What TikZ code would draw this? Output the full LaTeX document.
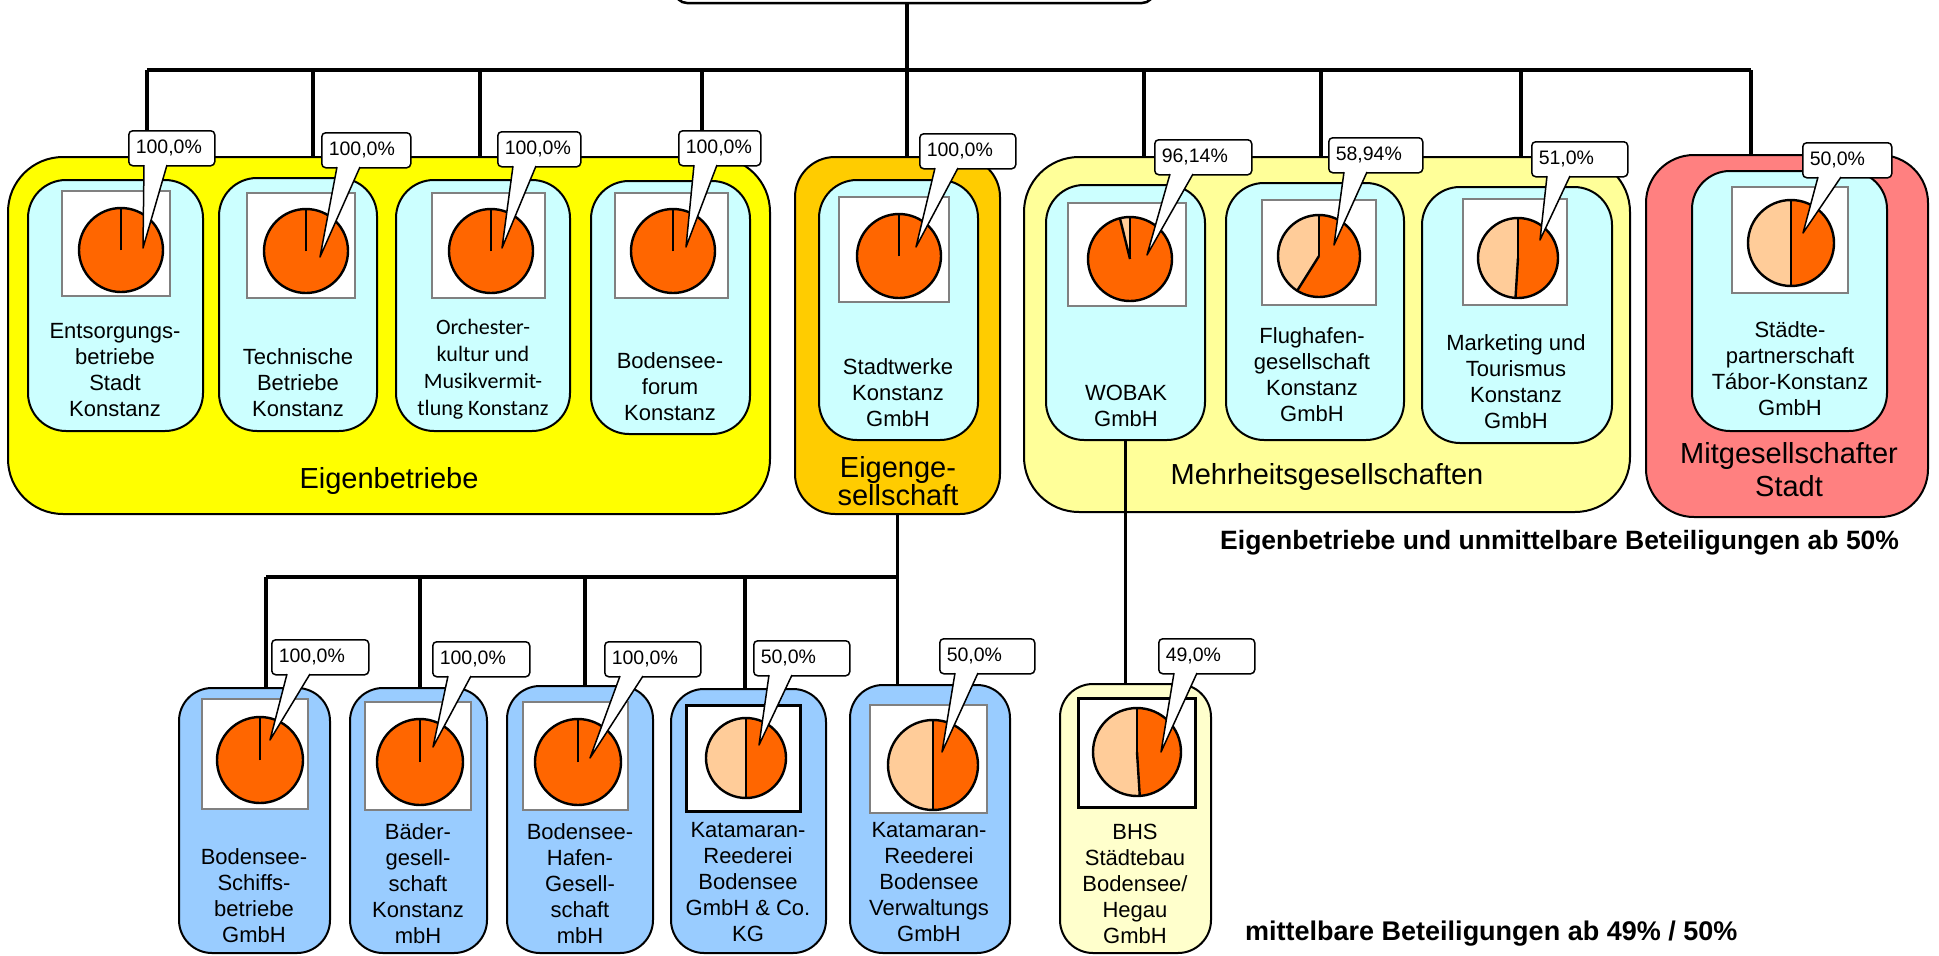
\documentclass[tikz,border=0pt]{standalone}
\usepackage{fontspec}
\setmainfont{Liberation Sans}
\newfontfamily\calibri{Carlito}
\usepackage{tikz}
\usetikzlibrary{calc}
\usetikzlibrary{positioning}
\definecolor{eigengelb}{RGB}{255,255,0}
\definecolor{eggelb}{RGB}{255,204,0}
\definecolor{mehrgelb}{RGB}{255,255,153}
\definecolor{mitrot}{RGB}{255,128,128}
\definecolor{firmablau}{RGB}{204,255,255}
\definecolor{tochterblau}{RGB}{153,204,255}
\definecolor{bhsgelb}{RGB}{255,255,204}
\definecolor{anteildunkel}{RGB}{255,102,0}
\definecolor{anteilhell}{RGB}{255,204,153}

% box from (x1,y1) to (x2,y2), y downwards
\newcommand{\kasten}[6]{%
  \node[#2, minimum width={#5-#3}, minimum height={#6-#4}] (#1) at ({(#3+#5)/2},{(#4+#6)/2}) {};}
% pie: centre, radius, percent
\newcommand{\anteil}[4]{%
  \fill[anteilhell] (#1,#2) circle[radius=#3];
  \fill[anteildunkel] (#1,#2) -- ++(-90:#3) arc[start angle=-90, delta angle={3.6*#4}, radius=#3] -- cycle;
  \draw[kreis] (#1,#2) circle[radius=#3];
  \draw[kreis] (#1,#2) -- ++(-90:#3);
  \draw[kreis] (#1,#2) -- ++({-90+3.6*#4}:#3);}
% callout: name, x, y, width, text, tip
\newcommand{\zahl}[7]{%
  \pgfmathsetmacro\zw{#4-14}
  \node[sprech, text width=\zw pt] (#1) at (#2,#3) {#5};
  \coordinate (#1spitze) at (#6,#7);
  \fill[white] ($(#1.south west)+(16,-1.5)$) -- (#1spitze) -- ($(#1.south west)+(39,-1.5)$) -- cycle;
  \draw[line width=1.5pt, line join=round] ($(#1.south west)+(16,-1.5)$) -- (#1spitze) -- ($(#1.south west)+(39,-1.5)$);}

\begin{document}
\begin{tikzpicture}[x=1pt, y=-1pt,
  tree/.style={line width=3.3pt},
  gruppe/.style={draw, line width=2pt, rounded corners=55pt, inner sep=0pt},
  firma/.style={draw, line width=2pt, fill=firmablau, rounded corners=38pt, inner sep=0pt},
  tochter/.style={draw, line width=2pt, fill=tochterblau, rounded corners=33pt, inner sep=0pt},
  diagramm/.style={draw=black!50, line width=1.3pt, fill=white, inner sep=0pt},
  diagrammdick/.style={draw, line width=3pt, fill=white, inner sep=0pt},
  kreis/.style={line width=2.4pt, line join=round},
  sprech/.style={draw, fill=white, line width=1.5pt, rounded corners=4pt, anchor=north west,
    minimum height=35pt, inner xsep=7pt, inner ysep=0pt, align=left, font=\fontsize{19.5}{22}\selectfont},
  lbl/.style={align=center, inner sep=0pt, font=\fontsize{22}{26}\selectfont},
  titel/.style={align=center, inner sep=0pt, font=\fontsize{29}{33}\selectfont}]
\useasboundingbox (0,0) rectangle (1939,956);

\kasten{stadt}{draw, line width=2.5pt, rounded corners=12pt, fill=white}{675}{-60}{1154}{3}

% groups
\kasten{eigenbetriebe}{gruppe, fill=eigengelb}{8}{157}{770}{514}
\kasten{eigenges}{gruppe, fill=eggelb, rounded corners=40pt}{795}{157}{1000}{514}
\kasten{mehrheit}{gruppe, fill=mehrgelb}{1024}{157}{1630}{512}
\kasten{mitges}{gruppe, fill=mitrot, rounded corners=48pt}{1646}{155}{1928}{517}

\kasten{ebe}{firma}{28}{180}{203}{431}
\kasten{tbk}{firma}{219}{178}{377}{431}
\kasten{okm}{firma}{396}{180}{570}{431}
\kasten{bfk}{firma}{591}{181}{750}{434}
\kasten{swk}{firma}{819}{180}{978}{440}
\kasten{wobak}{firma}{1046}{185}{1205}{440}
\kasten{flughafen}{firma}{1226}{183}{1404}{440}
\kasten{mtk}{firma}{1422}{187}{1612}{443}
\kasten{tabor}{firma}{1692}{171}{1887}{431}

\kasten{schiffs}{tochter}{179}{688}{330}{953}
\kasten{baeder}{tochter}{350}{688}{487}{953}
\kasten{hafen}{tochter}{507}{686}{653}{953}
\kasten{katkg}{tochter}{671}{689}{826}{953}
\kasten{katverw}{tochter}{850}{685}{1010}{953}
\kasten{bhs}{tochter, fill=bhsgelb}{1060}{684}{1211}{953}

% tree
\coordinate (tl) at (147,70);
\coordinate (tr) at (1751,70);
\coordinate (jc) at (907,70);
\draw[tree] (tl) -- (tr);
\draw[tree] (jc |- stadt.south) -- (jc |- eigenges.north);
\foreach \x/\ziel in {147/eigenbetriebe,313/eigenbetriebe,480/eigenbetriebe,702/eigenbetriebe,1144/mehrheit,1321/mehrheit,1521/mehrheit,1751/mitges}{
  \coordinate (d) at (\x,70);
  \draw[tree] (d) -- (d |- \ziel.north);
}
\coordinate (ul) at (266,577);
\draw[tree] (ul) -- (ul -| eigenges.south);
\draw[line width=2.6pt] (eigenges.south) -- (eigenges.south |- ul);
\draw[tree] (eigenges.south |- ul) -- (eigenges.south |- katverw.north);
\foreach \x/\ziel in {266/schiffs,420/baeder,585/hafen,745/katkg}{
  \coordinate (d) at (\x,577);
  \draw[tree] (d) -- (d |- \ziel.north);
}
\draw[line width=2.8pt] (wobak.south) -- (wobak.south |- bhs.north);

% charts
\kasten{ebeD}{diagramm}{62}{191}{170}{296}
\kasten{tbkD}{diagramm}{247}{193}{355}{298}
\kasten{okmD}{diagramm}{432}{193}{545}{298}
\kasten{bfkD}{diagramm}{615}{193}{728}{298}
\kasten{swkD}{diagramm}{839}{197}{949}{302}
\kasten{wobakD}{diagramm}{1068}{203}{1186}{306}
\kasten{flughafenD}{diagramm}{1262}{200}{1376}{305}
\kasten{mtkD}{diagramm}{1463}{199}{1567}{305}
\kasten{taborD}{diagramm}{1732}{187}{1848}{293}
\kasten{schiffsD}{diagramm}{202}{699}{308}{809}
\kasten{baederD}{diagramm}{365}{702}{471}{810}
\kasten{hafenD}{diagramm}{523}{702}{628}{810}
\kasten{katkgD}{diagrammdick}{686}{705}{800}{811}
\kasten{katverwD}{diagramm}{870}{705}{987}{813}
\kasten{bhsD}{diagrammdick}{1078}{698}{1195}{807}

\anteil{121}{250}{42}{100}
\anteil{306}{251}{42}{100}
\anteil{491}{251}{42}{100}
\anteil{673}{251}{42}{100}
\anteil{899}{256}{42}{100}
\anteil{1130}{259}{42}{96.14}
\anteil{1319}{256}{41}{58.94}
\anteil{1518}{258}{40}{51}
\anteil{1791}{243}{43}{50}
\anteil{260}{760}{43}{100}
\anteil{420}{762}{43}{100}
\anteil{578}{762}{43}{100}
\anteil{746}{758}{40}{50}
\anteil{933}{765}{45}{50}
\anteil{1137}{752}{44}{49}

% names
\node[lbl] (ebeT) at (115,370) {Entsorgungs-\\betriebe\\Stadt\\Konstanz};
\node[lbl] (tbkT) at (298,383) {Technische\\Betriebe\\Konstanz};
\node[lbl, font=\calibri\fontsize{22}{27}\selectfont] (okmT) at (483,369) {Orchester-\\kultur und\\Musikvermit-\\tlung Konstanz};
\node[lbl] (bfkT) at (670,387) {Bodensee-\\forum\\Konstanz};
\node[lbl] (swkT) at (898,393) {Stadtwerke\\Konstanz\\GmbH};
\node[lbl] (wobakT) at (1126,406) {WOBAK\\GmbH};
\node[lbl] (flughafenT) at (1312,375) {Flughafen-\\gesellschaft\\Konstanz\\GmbH};
\node[lbl] (mtkT) at (1516,382) {Marketing und\\Tourismus\\Konstanz\\GmbH};
\node[lbl] (taborT) at (1790,369) {Städte-\\partnerschaft\\Tábor-Konstanz\\GmbH};
\node[lbl] (schiffsT) at (254,896) {Bodensee-\\Schiffs-\\betriebe\\GmbH};
\node[lbl] (baederT) at (418,884) {Bäder-\\gesell-\\schaft\\Konstanz\\mbH};
\node[lbl] (hafenT) at (580,884) {Bodensee-\\Hafen-\\Gesell-\\schaft\\mbH};
\node[lbl] (katkgT) at (748,882) {Katamaran-\\Reederei\\Bodensee\\GmbH \& Co.\\KG};
\node[lbl] (katverwT) at (929,882) {Katamaran-\\Reederei\\Bodensee\\Verwaltungs\\GmbH};
\node[lbl] (bhsT) at (1135,884) {BHS\\Städtebau\\Bodensee/\\Hegau\\GmbH};

\node[titel] (eigenbetriebeT) at (389,481) {Eigenbetriebe};
\node[titel, font=\fontsize{29}{25}\selectfont] (eigengesT) at (898,481) {Eigenge-\\sellschaft};
\node[titel] (mehrheitT) at (1327,477) {Mehrheitsgesellschaften};
\node[titel] (mitgesT) at (1789,470) {Mitgesellschafter\\Stadt};

\node[anchor=base west, inner sep=0pt, font=\bfseries\fontsize{26.5}{30}\selectfont] (hinweisA) at (1220,549) {Eigenbetriebe und unmittelbare Beteiligungen ab 50\%};
\node[anchor=base west, inner sep=0pt, font=\bfseries\fontsize{27}{30}\selectfont] (hinweisB) at (1245,940) {mittelbare Beteiligungen ab 49\% / 50\%};

% shares
\zahl{pEBE}{128}{130}{86}{100,0\%}{143}{248}
\zahl{pTBK}{321}{132}{89}{100,0\%}{320}{257}
\zahl{pOKM}{497}{131}{83}{100,0\%}{502}{248}
\zahl{pBFK}{678}{130}{82}{100,0\%}{686}{247}
\zahl{pSWK}{919}{133}{96}{100,0\%}{916}{247}
\zahl{pWOBAK}{1154}{139}{97}{96,14\%}{1147}{255}
\zahl{pFH}{1328}{137}{94}{58,94\%}{1334}{245}
\zahl{pMTK}{1531}{141}{96}{51,0\%}{1540}{240}
\zahl{pTabor}{1802}{142}{89}{50,0\%}{1803}{233}
\zahl{pSchiffs}{271}{639}{97}{100,0\%}{270}{740}
\zahl{pBaeder}{432}{641}{97}{100,0\%}{433}{747}
\zahl{pHafen}{604}{641}{96}{100,0\%}{590}{758}
\zahl{pKatKG}{753}{640}{96}{50,0\%}{759}{745}
\zahl{pKatV}{939}{638}{95}{50,0\%}{942}{752}
\zahl{pBHS}{1158}{638}{96}{49,0\%}{1161}{752}
\end{tikzpicture}
\end{document}
